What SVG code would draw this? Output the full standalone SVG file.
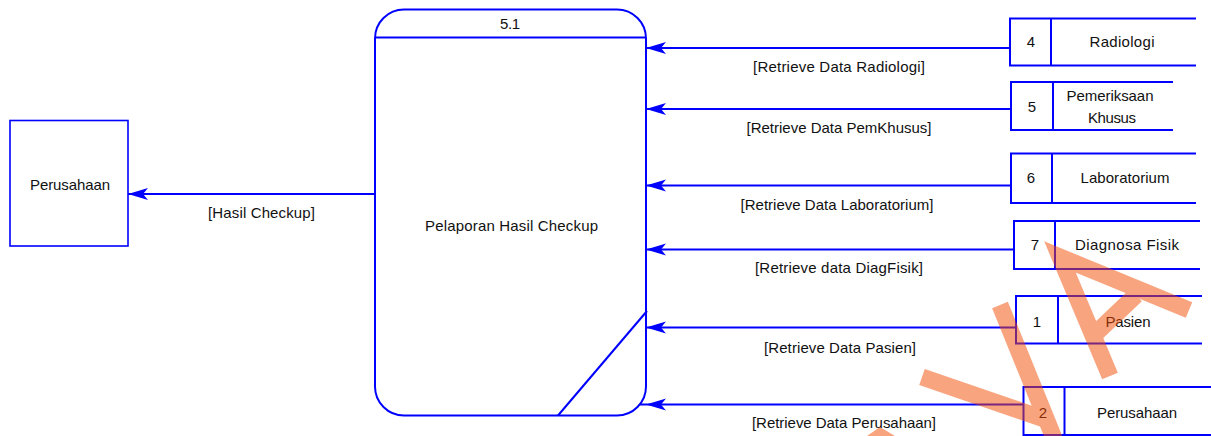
<svg xmlns="http://www.w3.org/2000/svg" width="1211" height="436" viewBox="0 0 1211 436">
<style>
.ln{fill:none;stroke:#0000FF;stroke-width:2}
.bx{fill:#FFFFFF;stroke:#0000FF;stroke-width:2}
.t{font-family:"Liberation Sans",Arial,sans-serif;font-size:15px;fill:#111111;text-anchor:middle}
.fl{fill:none;stroke:#0000FF;stroke-width:2;marker-end:url(#ah)}
.wm{fill:none;stroke:#F34B00;stroke-width:17;stroke-linecap:butt;stroke-linejoin:miter}
</style>
<defs>
<marker id="ah" markerUnits="userSpaceOnUse" viewBox="-21 -7 22 14" refX="0" refY="0" markerWidth="22" markerHeight="14" orient="auto" overflow="visible">
<path d="M0,0 L-20,-6 L-15,0 L-20,6 Z" fill="#0000FF"/>
</marker>
</defs>
<rect width="1211" height="436" fill="#FFFFFF"/>

<g id="connectors">
<path class="fl" d="M375,194 L128,194"/>
<text class="t" x="261.5" y="218" textLength="107" lengthAdjust="spacing">[Hasil Checkup]</text>
<path class="fl" d="M1010,48 L646,48"/>
<text class="t" x="839" y="72" textLength="172" lengthAdjust="spacing">[Retrieve Data Radiologi]</text>
<path class="fl" d="M1011,109 L646,109"/>
<text class="t" x="839" y="133" textLength="185" lengthAdjust="spacing">[Retrieve Data PemKhusus]</text>
<path class="fl" d="M1011,185.5 L646,185.5"/>
<text class="t" x="837" y="210" textLength="193" lengthAdjust="spacing">[Retrieve Data Laboratorium]</text>
<path class="fl" d="M1014,249.5 L646,249.5"/>
<text class="t" x="839" y="273" textLength="168" lengthAdjust="spacing">[Retrieve data DiagFisik]</text>
<path class="fl" d="M1016,327.5 L646,327.5"/>
<text class="t" x="840" y="353" textLength="152" lengthAdjust="spacing">[Retrieve Data Pasien]</text>
<path class="fl" d="M1023,404.5 L646,404.5"/>
<path class="ln" d="M646,404.5 L636,404.5"/>
<text class="t" x="844" y="428" textLength="184" lengthAdjust="spacing">[Retrieve Data Perusahaan]</text>
</g>

<g id="entity-perusahaan">
<rect x="10" y="120.5" width="118" height="125.5" fill="#FFFFFF" stroke="#0000FF" stroke-width="1.6"/>
<text class="t" x="70" y="190" textLength="80" lengthAdjust="spacing">Perusahaan</text>
</g>

<g id="process-5-1">
<rect class="bx" x="375" y="9.5" width="271" height="406" rx="29" ry="29"/>
<line class="ln" x1="375" y1="37.5" x2="646" y2="37.5"/>
<line class="ln" x1="647" y1="311" x2="558" y2="415.5"/>
<text class="t" x="510" y="28.5" textLength="20" lengthAdjust="spacing">5.1</text>
<text class="t" x="511.5" y="231" textLength="173" lengthAdjust="spacing">Pelaporan Hasil Checkup</text>
</g>

<g id="store-4">
<path class="ln" d="M1196,18.5 L1010,18.5 L1010,65.5 L1196,65.5 M1051,18.5 L1051,65.5"/>
<text class="t" x="1031" y="47" textLength="9" lengthAdjust="spacing">4</text>
<text class="t" x="1122" y="47" textLength="65" lengthAdjust="spacing">Radiologi</text>
</g>

<g id="store-5">
<path class="ln" d="M1173,82 L1011,82 L1011,130 L1173,130 M1053,82 L1053,130"/>
<text class="t" x="1032" y="111.5" textLength="9" lengthAdjust="spacing">5</text>
<text class="t" x="1110" y="100.5" textLength="87" lengthAdjust="spacing">Pemeriksaan</text>
<text class="t" x="1112" y="123" textLength="48" lengthAdjust="spacing">Khusus</text>
</g>

<g id="store-6">
<path class="ln" d="M1196,153.5 L1011,153.5 L1011,203 L1196,203 M1052,153.5 L1052,203"/>
<text class="t" x="1031" y="183" textLength="9" lengthAdjust="spacing">6</text>
<text class="t" x="1125" y="183" textLength="89" lengthAdjust="spacing">Laboratorium</text>
</g>

<g id="store-7">
<path class="ln" d="M1200,221 L1014,221 L1014,269 L1200,269 M1055,221 L1055,269"/>
<text class="t" x="1035" y="250" textLength="9" lengthAdjust="spacing">7</text>
<text class="t" x="1127" y="250" textLength="104" lengthAdjust="spacing">Diagnosa Fisik</text>
</g>

<g id="store-1">
<path class="ln" d="M1202,296 L1016,296 L1016,343.5 L1202,343.5 M1058,296 L1058,343.5"/>
<text class="t" x="1037" y="327" textLength="8" lengthAdjust="spacing">1</text>
<text class="t" x="1128" y="327" textLength="45" lengthAdjust="spacing">Pasien</text>
</g>

<g id="store-2">
<path class="ln" d="M1211,387 L1023.5,387 L1023.5,435 L1211,435 M1064.5,387 L1064.5,435"/>
<text class="t" x="1043" y="418" textLength="9" lengthAdjust="spacing">2</text>
<text class="t" x="1137" y="418" textLength="80" lengthAdjust="spacing">Perusahaan</text>
</g>

<g id="watermark" opacity="0.5">
<polyline class="wm" points="1110,376 1060,257 1189,310"/>
<line class="wm" x1="1136" y1="295" x2="1094" y2="335" stroke-width="15"/>
<line class="wm" x1="1000" y1="305" x2="1062" y2="458"/>
<line class="wm" x1="922" y1="377" x2="1050" y2="421"/>
<polygon points="867,436 880,427 895,436" fill="#F34B00"/>
</g>
</svg>
